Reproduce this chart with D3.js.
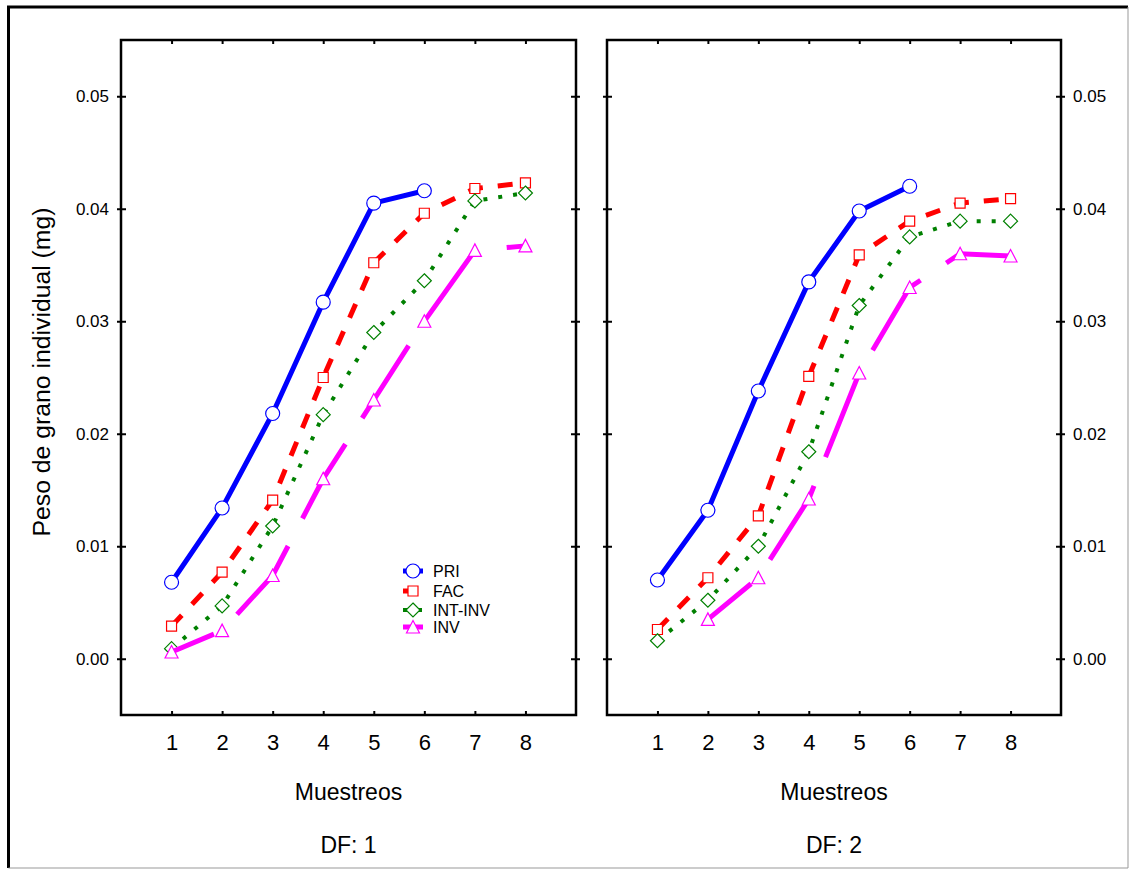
<!DOCTYPE html>
<html>
<head>
<meta charset="utf-8">
<script src="https://cdn.jsdelivr.net/npm/d3@7"></script>
<style>
  body { margin: 0; background: #fff; }
  svg { display: block; font-family: "Liberation Sans", Arial, sans-serif; }
</style>
</head>
<body>
<div class="chart"></div>
<script>
// sampling numbers (x axis)
const muestreos = [1, 2, 3, 4, 5, 6, 7, 8];
const seriesNames = ['PRI', 'FAC', 'INT-INV', 'INV'];
const yTicks = [0, 0.01, 0.02, 0.03, 0.04, 0.05];
const yTickLabels = ['0.00', '0.01', '0.02', '0.03', '0.04', '0.05'];

// DF: 1
const pri1 = [0.0068, 0.0134, 0.0218, 0.0317, 0.0405, 0.0416];
const fac1 = [0.0029, 0.0077, 0.0141, 0.0250, 0.0352, 0.0396, 0.0418, 0.0423];
const int1 = [0.0009, 0.0047, 0.0118, 0.0217, 0.0290, 0.0336, 0.0407, 0.0414];
const inv1 = [0.0006, 0.0025, 0.0074, 0.0160, 0.0230, 0.0300, 0.0363, 0.0367];

// DF: 2
const pri2 = [0.0070, 0.0132, 0.0238, 0.0335, 0.0398, 0.0420];
const fac2 = [0.0026, 0.0072, 0.0127, 0.0251, 0.0359, 0.0389, 0.0405, 0.0409];
const int2 = [0.0016, 0.0052, 0.0100, 0.0184, 0.0314, 0.0375, 0.0389, 0.0389];
const inv2 = [null, 0.0035, 0.0072, 0.0142, 0.0254, 0.0330, 0.0360, 0.0358];

const width = 1130, height = 869;
const plotTop = 40, plotBottom = 715;

const styles = {
    'PRI':     {color: '#0000ff', width: 5, dash: null, marker: 'circle'},
    'FAC':     {color: '#ff0000', width: 5, dash: '15,15', marker: 'square'},
    'INT-INV': {color: '#008000', width: 4, dash: '4,11', marker: 'diamond'},
    'INV':     {color: '#ff00ff', width: 5, dash: '86,31', marker: 'triangle'}
};

const markerPath = {
    circle: 'M7,0A7,7 0 1,1 -7,0A7,7 0 1,1 7,0Z',
    square: 'M-5,-5h10v10h-10Z',
    diamond: 'M0,-7L7,0L0,7L-7,0Z',
    triangle: 'M0,-6.5L6.5,6L-6.5,6Z'
};

const svg = d3.select('.chart')
    .append('svg')
    .attr('width', width)
    .attr('height', height);

// outer frame
svg.append('path')
    .attr('d', 'M8.5,868 V7 H1128')
    .attr('fill', 'none').attr('stroke', '#000').attr('stroke-width', 3);
svg.append('path')
    .attr('d', 'M1128,7 V868 H8.5')
    .attr('fill', 'none').attr('stroke', '#999').attr('stroke-width', 1);

const yScale = d3.scaleLinear()
    .domain([-0.005, 0.055])
    .range([plotBottom, plotTop]);

const panels = [
    {left: 121, right: 576, title: 'DF: 1', labelSide: 'left', invOffset: 40,
     data: {'PRI': pri1, 'FAC': fac1, 'INT-INV': int1, 'INV': inv1}},
    {left: 607, right: 1061, title: 'DF: 2', labelSide: 'right', invOffset: 30,
     data: {'PRI': pri2, 'FAC': fac2, 'INT-INV': int2, 'INV': inv2}}
];

panels.forEach((p, pi) => {
    const xScale = d3.scaleLinear().domain([0, 9]).range([p.left, p.right]);
    const g = svg.append('g');

    // y axes on both sides
    const yLeft = d3.axisLeft(yScale).tickValues(yTicks)
        .tickFormat((d, i) => p.labelSide == 'left' ? yTickLabels[i] : '')
        .tickSize(4).tickPadding(8);
    const yRight = d3.axisRight(yScale).tickValues(yTicks)
        .tickFormat((d, i) => p.labelSide == 'right' ? yTickLabels[i] : '')
        .tickSize(4).tickPadding(8);
    const xBottom = d3.axisBottom(xScale).tickValues(muestreos)
        .tickSize(-4).tickPadding(19);
    const xTop = d3.axisTop(xScale).tickValues(muestreos)
        .tickSize(-4).tickFormat('');

    [[yLeft, p.left, 5], [yRight, p.right, -5]].forEach(([ax, tx, inner]) => {
        const a = g.append('g').attr('transform', `translate(${tx},0)`).call(ax);
        a.selectAll('.tick line').attr('x1', inner).attr('stroke-width', 2);
        a.selectAll('text').attr('font-size', 17).attr('fill', '#000')
            .attr('font-family', '"Liberation Sans", Arial, sans-serif');
        a.select('.domain').remove();
    });
    [[xBottom, plotBottom], [xTop, plotTop]].forEach(([ax, ty]) => {
        const a = g.append('g').attr('transform', `translate(0,${ty})`).call(ax);
        a.selectAll('.tick line').attr('stroke-width', 2);
        a.selectAll('text').attr('font-size', 22).attr('fill', '#000')
            .attr('font-family', '"Liberation Sans", Arial, sans-serif');
        a.select('.domain').remove();
    });

    // panel frame
    g.append('rect')
        .attr('x', p.left).attr('y', plotTop)
        .attr('width', p.right - p.left).attr('height', plotBottom - plotTop)
        .attr('fill', 'none').attr('stroke', '#000').attr('stroke-width', 2.5);

    // series
    seriesNames.forEach(name => {
        const st = styles[name];
        const pts = p.data[name]
            .map((v, i) => ({x: muestreos[i], y: v}))
            .filter(d => d.y != null);
        const line = d3.line().x(d => xScale(d.x)).y(d => yScale(d.y));
        g.append('path')
            .datum(pts)
            .attr('d', line)
            .attr('fill', 'none')
            .attr('stroke', st.color)
            .attr('stroke-width', st.width)
            .attr('stroke-dasharray', st.dash)
            .attr('stroke-dashoffset', name == 'INV' ? p.invOffset : 0);
        g.selectAll(null)
            .data(pts)
            .enter()
            .append('path')
            .attr('transform', d => `translate(${xScale(d.x)},${yScale(d.y)})`)
            .attr('d', markerPath[st.marker])
            .attr('fill', '#fff')
            .attr('stroke', st.color)
            .attr('stroke-width', 1.2);
    });

    const cx = (p.left + p.right) / 2;
    g.append('text')
        .attr('x', cx).attr('y', 800)
        .attr('text-anchor', 'middle')
        .attr('font-size', 23)
        .text('Muestreos');
    g.append('text')
        .attr('x', cx).attr('y', 853)
        .attr('text-anchor', 'middle')
        .attr('font-size', 23)
        .text(p.title);
});

// y axis title
svg.append('text')
    .attr('transform', 'translate(50,372) rotate(-90)')
    .attr('text-anchor', 'middle')
    .attr('font-size', 23)
    .attr('textLength', 329)
    .attr('lengthAdjust', 'spacingAndGlyphs')
    .text('Peso de grano individual (mg)');

// legend
const legend = svg.selectAll('.legend')
    .data(seriesNames)
    .enter()
    .append('g')
    .attr('class', 'legend')
    .attr('transform', (d, i) => `translate(413,${[571, 591, 610, 627][i]})`);

legend.append('line')
    .attr('x1', -10).attr('x2', 10)
    .attr('stroke', d => styles[d].color)
    .attr('stroke-width', d => styles[d].width)
    .attr('stroke-dasharray', d => d == 'INV' ? null : styles[d].dash);
legend.append('path')
    .attr('d', d => markerPath[styles[d].marker])
    .attr('fill', '#fff')
    .attr('stroke', d => styles[d].color)
    .attr('stroke-width', 1.2);
legend.append('text')
    .attr('x', 20)
    .attr('y', 6)
    .attr('font-size', 16)
    .text(d => d);
</script>
</body>
</html>
